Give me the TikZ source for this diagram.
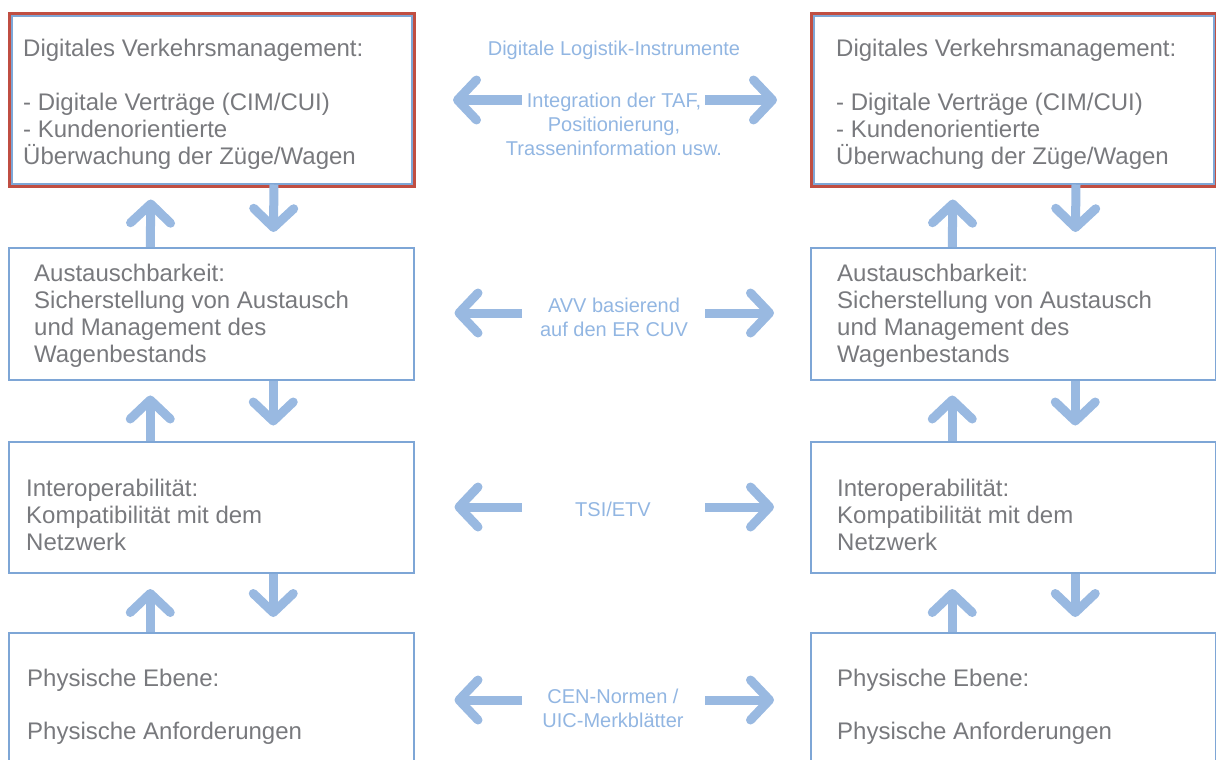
\documentclass[tikz,border=0pt]{standalone}
\usepackage{fontspec}
\setmainfont{Liberation Sans}
\usetikzlibrary{arrows.meta,fit}

\definecolor{boxblue}{RGB}{126,166,214}
\definecolor{arrowblue}{RGB}{153,185,225}
\definecolor{labelblue}{RGB}{146,182,226}
\definecolor{textgray}{RGB}{120,121,125}
\definecolor{framered}{RGB}{192,78,66}

\begin{document}
\begin{tikzpicture}[x = 1pt, y = -1pt,
    box/.style = {draw = boxblue, line width = 2pt, inner sep = 0pt},
    frame/.style = {draw = framered, line width = 3pt, inner sep = 1.5pt},
    boxtext/.style = {anchor = west, align = left, inner sep = 0pt, text = textgray,
        font = \fontsize{24}{27}\selectfont},
    midtext/.style = {align = center, inner sep = 0pt, text = labelblue,
        font = \fontsize{20}{24}\selectfont},
    flow/.style = {draw = arrowblue, line width = 9pt,
        -{Straight Barb[round, length = 19pt, width = 40pt]}}]
    \useasboundingbox (0,0) rectangle (1216,760);

    % left column
    \node[box, minimum width = 400pt, minimum height = 167pt] (l1) at (212,100) {};
    \node[box, minimum width = 404.5pt, minimum height = 131.5pt] (l2) at (211.25,313.75) {};
    \node[box, minimum width = 404.5pt, minimum height = 131.5pt] (l3) at (211.25,507.25) {};
    \node[box, minimum width = 404.5pt, minimum height = 142pt] (l4) at (211.25,704) {};
    \node[frame, fit = (l1)] (l1f) {};

    % right column
    \node[box, minimum width = 400pt, minimum height = 167pt] (r1) at (1014,100) {};
    \node[box, minimum width = 404.5pt, minimum height = 131.5pt] (r2) at (1013.25,313.75) {};
    \node[box, minimum width = 404.5pt, minimum height = 131.5pt] (r3) at (1013.25,507.25) {};
    \node[box, minimum width = 404.5pt, minimum height = 142pt] (r4) at (1013.25,704) {};
    \node[frame, fit = (r1)] (r1f) {};

    % box texts
    \node[boxtext] (l1t) at (23,104) {Digitales Verkehrsmanagement:\\[27pt]- Digitale Verträge (CIM/CUI)\\- Kundenorientierte\\Überwachung der Züge/Wagen};
    \node[boxtext] (l2t) at (34,316) {Austauschbarkeit:\\Sicherstellung von Austausch\\und Management des\\Wagenbestands};
    \node[boxtext] (l3t) at (26,515) {Interoperabilität:\\Kompatibilität mit dem\\Netzwerk};
    \node[boxtext] (l4t) at (27,707) {Physische Ebene:\\[26pt]Physische Anforderungen};
    \node[boxtext] (r1t) at (836,104) {Digitales Verkehrsmanagement:\\[27pt]- Digitale Verträge (CIM/CUI)\\- Kundenorientierte\\Überwachung der Züge/Wagen};
    \node[boxtext] (r2t) at (837,316) {Austauschbarkeit:\\Sicherstellung von Austausch\\und Management des\\Wagenbestands};
    \node[boxtext] (r3t) at (837,515) {Interoperabilität:\\Kompatibilität mit dem\\Netzwerk};
    \node[boxtext] (r4t) at (837,707) {Physische Ebene:\\[26pt]Physische Anforderungen};

    % middle labels
    \node[midtext] (m0) at (614,50) {Digitale Logistik-Instrumente};
    \node[midtext] (m1) at (614,124) {Integration der TAF,\\Positionierung,\\Trasseninformation usw.};
    \node[midtext] (m2) at (614,317) {AVV basierend\\auf den ER CUV};
    \node[midtext] (m3) at (613,509) {TSI/ETV};
    \node[midtext] (m4) at (613,708) {CEN-Normen /\\UIC-Merkblätter};

    % arrows between the layers
    \foreach \a/\b in {l1/l2, l2/l3, l3/l4, r1/r2, r2/r3, r3/r4} {
        \draw[flow, shorten > = 15pt] ([xshift = -61pt]\b.north) -- ([xshift = -61pt]\a.south);
        \draw[flow, shorten > = 15pt] ([xshift = 62pt]\a.south) -- ([xshift = 62pt]\b.north);
    }

    % arrows between the columns
    \foreach \i/\y in {1/100, 2/313, 3/507, 4/700} {
        \coordinate (w\i) at (522,\y);
        \coordinate (e\i) at (705,\y);
        \draw[flow, shorten > = 40pt] (w\i) -- (l\i.east |- w\i);
        \draw[flow, shorten > = 36pt] (e\i) -- (r\i.west |- e\i);
    }
\end{tikzpicture}
\end{document}
